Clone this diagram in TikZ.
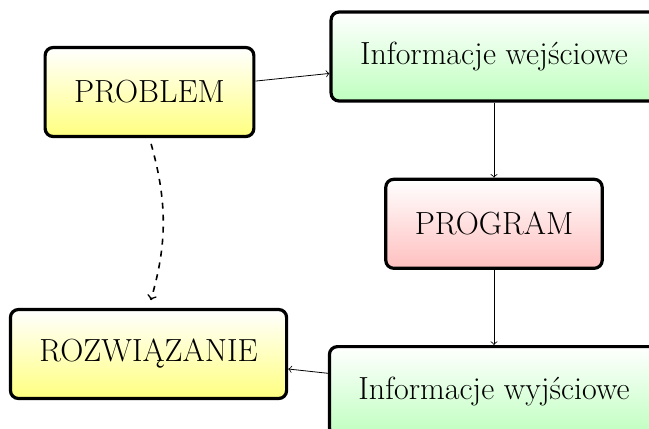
\documentclass[tikz,border=0pt]{standalone}
\usepackage{fontspec}
\usepackage{tikz}
\usetikzlibrary{positioning, arrows}
\tikzset{
	node distance=1.32cm, % space between the boxes in the right column
	every box/.style={draw, ultra thick, rounded corners=4pt, font=\fontsize{16}{19}\selectfont,
		inner xsep=14.5pt, minimum height=44.5pt, top color=white}, % common look of all boxes
	yellowbox/.style={every box, bottom color=yellow!50},
	greenbox/.style={every box, bottom color=green!25},
	redbox/.style={every box, bottom color=red!25},
}

\begin{document}
\begin{tikzpicture}
	\useasboundingbox (0,0) rectangle (11.405,-7.539);
			\node[yellowbox] (problem) at (2.627,-1.617) {PROBLEM};
			\node[greenbox] (wej) at (8.681,-0.993) {Informacje wejściowe};
			\node[redbox, below=of wej] (program) {PROGRAM};
			\node[greenbox, below=of program] (wyj) {Informacje wyjściowe};
			\node[yellowbox] (roz) at (2.610,-6.221) {ROZWIĄZANIE};
	\draw[->] 	(problem) -- (wej);
	\draw[->] 	(wej) -- (program);
	\draw[->] 	(program) -- (wyj);
	\draw[->] 	(wyj) -- (roz);
	\draw[->, thick, dashed, shorten <=3pt, shorten >=4pt]
			(problem.south) to[bend left=16] (roz.north);
	\end{tikzpicture}
\end{document}
